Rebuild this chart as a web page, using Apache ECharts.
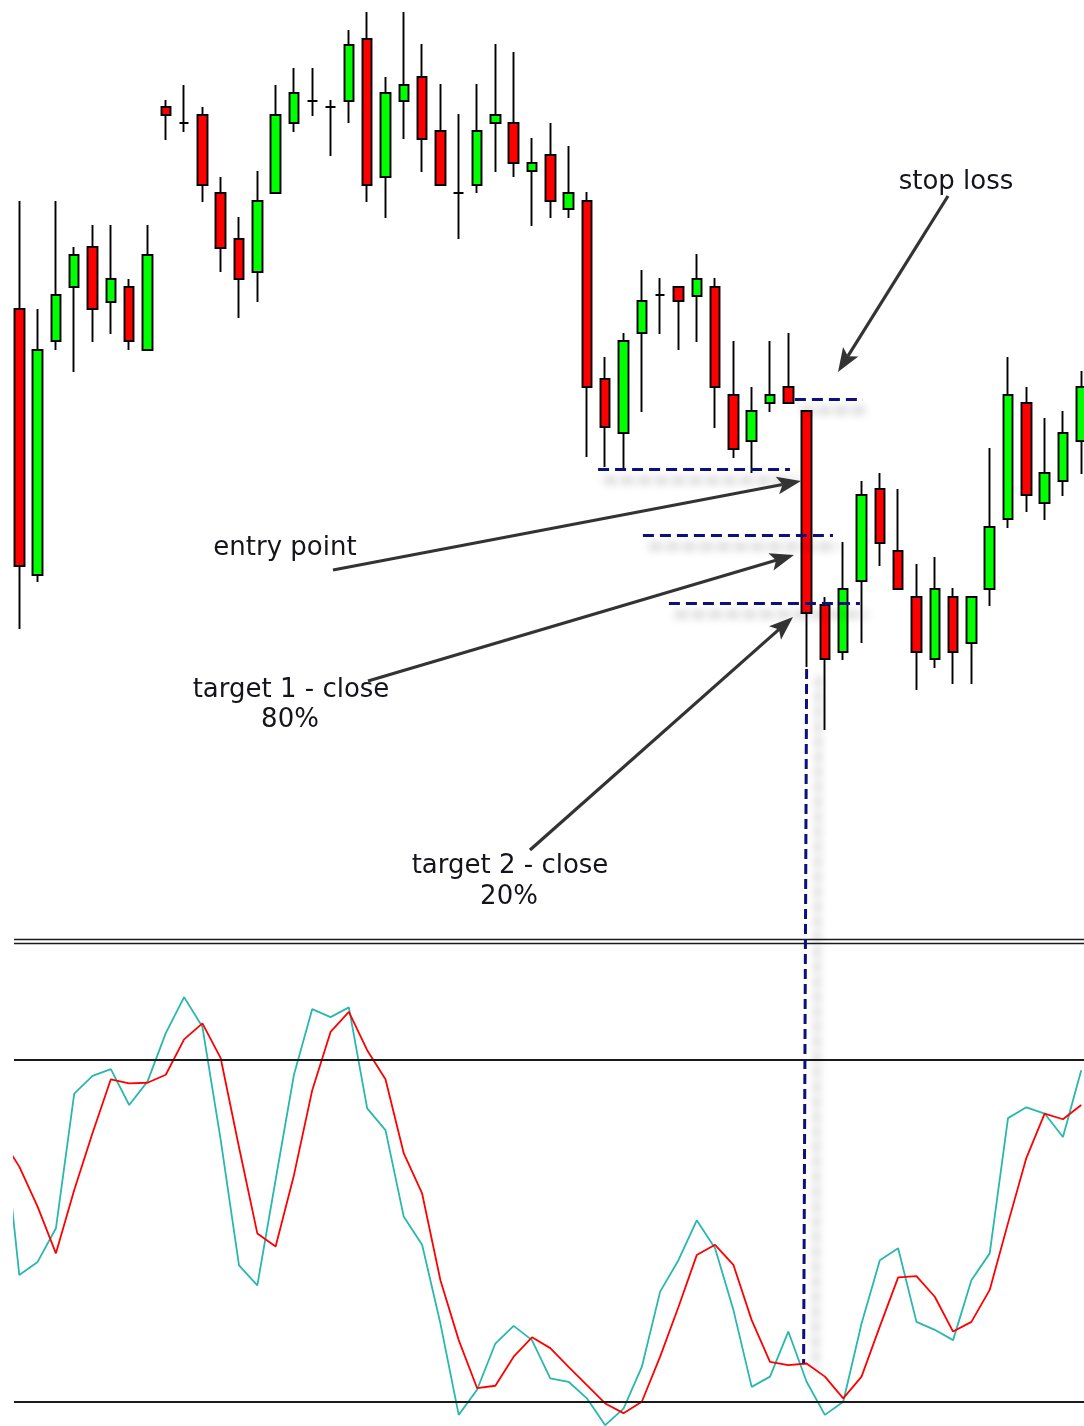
<!DOCTYPE html>
<html>
<head>
<meta charset="utf-8">
<script src="https://cdn.jsdelivr.net/npm/echarts@6/dist/echarts.min.js"></script>
<style>
html,body{margin:0;padding:0;background:#ffffff;}
#chart{width:1084px;height:1426px;}
</style>
</head>
<body>
<div id="chart"></div>
<script>
// ---------- DATA ----------
const barNumbers = [1,2,3,4,5,6,7,8,9,10,11,12,13,14,15,16,17,18,19,20,21,22,23,24,25,26,27,28,29,30,31,32,33,34,35,36,37,38,39,40,41,42,43,44,45,46,47,48,49,50,51,52,53,54,55,56,57,58,59];
const opens  = [691,425,659,713,753,698,713,650,893,877, 885,807,761,728,807,877,899,893,899,961, 823,899,923,869,807,815,877,877,829,845, 791,799,621,567,667,705,713,704,713,605, 559,597,613,589,395,348,419,511,449,403, 341,403,357,411,481,597,497,519,559];
const closes = [434,650,705,745,691,721,659,745,885,877, 815,752,721,799,885,907,899,893,955,815, 907,915,861,815,807,869,885,837,837,799, 807,613,573,659,699,705,699,721,613,551, 589,605,597,387,341,411,505,457,411,348, 411,348,403,473,605,505,527,567,613];
const lows   = [371,418,650,628,658,666,650,650,860,868, 798,728,682,698,807,868,884,844,877,798, 782,861,828,815,761,807,828,823,774,782, 782,543,533,532,588,666,650,658,572,542, 527,588,597,333,270,340,357,434,411,310, 332,316,316,394,472,488,480,504,526];
const highs  = [799,691,799,753,775,775,721,775,900,915, 893,823,783,829,915,932,932,900,970,988, 923,988,956,916,886,916,956,948,862,877, 854,808,643,667,730,722,713,746,722,659, 613,659,667,589,403,458,519,527,511,436, 443,412,403,552,643,613,582,589,629];

const stochBars = [0,1,2,3,4,5,6,7,8,9,10,11,12,13,14,15,16,17,18,19,20,21,22,23,24,25,26,27,28,29,30,31,32,33,34,35,36,37,38,39,40,41,42,43,44,45,46,47,48,49,50,51,52,53,54,55,56,57,58,59];
const stochK = [72.5,42.2,44.5,50.4,74.0,77.1,78.3,72.0,76.1,84.6, 90.9,85.7,65.9,43.9,40.4,58.9,77.3,88.8,87.4,89.1, 71.4,67.6,52.4,47.5,33.7,17.7,22.1,30.2,33.3,30.8, 24.1,23.5,20.6,15.9,18.8,26.1,39.3,44.8,51.8,46.9, 36.1,22.6,24.4,32.3,23.5,17.7,20.0,33.7,44.8,46.9, 34.0,32.6,30.8,41.3,46.0,69.7,71.6,70.5,66.4,78.1];
const stochD = [66.3,61.2,54.2,46.0,57.1,67.1,76.5,75.8,75.9,77.3, 83.5,86.3,80.2,64.6,49.5,47.2,59.7,74.6,84.8,88.3, 81.6,76.5,63.5,56.5,41.3,30.8,22.4,22.8,27.9,31.3, 29.4,26.1,22.9,19.7,18.0,20.0,27.9,36.6,45.7,47.5, 44.0,34.3,27.0,26.4,26.7,24.4,20.6,24.4,33.2,41.8, 42.0,38.4,32.3,34.0,39.6,51.3,62.7,70.5,69.5,72.0];
const stochLevels = [80, 20];

// trade levels (price, bar range of the dashed marker)
const levelNames  = ['stop loss', 'entry point', 'target 1', 'target 2'];
const levelPrices = [601, 531, 465, 397];
const levelFrom   = [43.36, 32.61, 35.06, 36.48];
const levelTo     = [47.08, 43.09, 45.44, 46.91];
const signalBar = 44;

(function () {
  const chart = echarts.init(document.getElementById('chart'), null, {renderer: 'canvas'});

  const candleData = barNumbers.map((k, i) => [k, opens[i], closes[i], lows[i], highs[i]]);
  const kData = stochBars.map((k, i) => [k, stochK[i]]);
  const dData = stochBars.map((k, i) => [k, stochD[i]]);

  const xMin = 0.7105, xMax = 59.15;
  const hiddenX = (gi) => ({type: 'value', gridIndex: gi, min: xMin, max: xMax, show: false, splitLine: {show: false}});

  const option = {
    animation: false,
    backgroundColor: '#ffffff',
    grid: [
      {left: 14, right: 0, top: 0, height: 945},
      {left: 14, right: 0, top: 945.2, bottom: 0}
    ],
    xAxis: [hiddenX(0), hiddenX(1)],
    yAxis: [
      {type: 'value', gridIndex: 0, min: 55, max: 1000, show: false, splitLine: {show: false}},
      {type: 'value', gridIndex: 1, min: 15.75, max: 100, show: false, splitLine: {show: false}}
    ],
    series: [
      {
        type: 'candlestick', xAxisIndex: 0, yAxisIndex: 0,
        data: candleData, barWidth: 10, silent: true,
        itemStyle: {color: '#00ff00', color0: '#ff0000', borderColor: '#000000', borderColor0: '#000000', borderColorDoji: '#000000', borderWidth: 1.9},
        markLine: {
          silent: true, symbol: ['none', 'none'], label: {show: false},
          lineStyle: {color: '#0e0e7c', width: 3, type: [11, 6], shadowColor: 'rgba(0,0,0,0.48)', shadowBlur: 10, shadowOffsetX: 7, shadowOffsetY: 11},
          emphasis: {disabled: true},
          data: levelPrices.map((p, i) => [{coord: [levelFrom[i], p]}, {coord: [levelTo[i], p]}])
        }
      },
      {
        type: 'line', xAxisIndex: 1, yAxisIndex: 1, data: kData,
        symbol: 'none', silent: true,
        lineStyle: {color: '#2ab7ae', width: 1.8},
        markLine: {
          silent: true, symbol: ['none', 'none'], label: {show: false},
          lineStyle: {color: '#1a1a1a', width: 2, type: 'solid'},
          emphasis: {disabled: true},
          data: stochLevels.map(v => ({yAxis: v}))
        }
      },
      {
        type: 'line', xAxisIndex: 1, yAxisIndex: 1, data: dData,
        symbol: 'none', silent: true,
        lineStyle: {color: '#ff0000', width: 1.8}
      }
    ]
  };
  chart.setOption(option);

  // ---------- ANNOTATIONS ----------
  const FONT = '26px "DejaVu Sans", Verdana, sans-serif';
  const TEXT_COLOR = '#15131c';
  const ARROW_COLOR = '#333333';

  function arrow(x1, y1, x2, y2) {
    const dx = x2 - x1, dy = y2 - y1, len = Math.hypot(dx, dy);
    const ux = dx / len, uy = dy / len, nx = -uy, ny = ux;
    const L = 24, W = 18;
    const bx = x2 - ux * L, by = y2 - uy * L;
    const nxp = x2 - ux * L * 0.78, nyp = y2 - uy * L * 0.78;
    return [
      {type: 'line', silent: true, z: 50, shape: {x1: x1, y1: y1, x2: nxp, y2: nyp}, style: {stroke: ARROW_COLOR, lineWidth: 3.2}},
      {type: 'polygon', silent: true, z: 50, shape: {points: [[x2, y2], [bx + nx * W / 2, by + ny * W / 2], [nxp, nyp], [bx - nx * W / 2, by - ny * W / 2]]}, style: {fill: ARROW_COLOR}}
    ];
  }
  function label(text, x, y) {
    return {type: 'text', silent: true, z: 60, style: {text: text, x: x, y: y, font: FONT, fill: TEXT_COLOR, align: 'center', verticalAlign: 'middle'}};
  }

  const sigTop = chart.convertToPixel({xAxisIndex: 0, yAxisIndex: 0}, [signalBar, lows[signalBar - 1]]);
  const sigBottom = chart.convertToPixel({xAxisIndex: 1, yAxisIndex: 1}, [signalBar, stochD[signalBar]]);

  const elements = [
    {type: 'line', silent: true, z: 40, shape: {x1: 14, y1: 939.5, x2: 1084, y2: 939.5}, style: {stroke: '#1a1a1a', lineWidth: 1.7}},
    {type: 'line', silent: true, z: 40, shape: {x1: 14, y1: 943.5, x2: 1084, y2: 943.5}, style: {stroke: '#1a1a1a', lineWidth: 1.7}},
    {type: 'line', silent: true, z: 45, shape: {x1: sigTop[0], y1: sigTop[1] + 2, x2: sigBottom[0] - 3, y2: sigBottom[1]},
      style: {stroke: '#0e0e7c', lineWidth: 3, lineDash: [10, 5], shadowColor: 'rgba(0,0,0,0.38)', shadowBlur: 9, shadowOffsetX: 12, shadowOffsetY: 8}},
    ...arrow(948, 196, 838, 372),
    ...arrow(333, 570, 801, 481),
    ...arrow(368, 681, 794, 555),
    ...arrow(530, 850, 793, 617),
    label('stop loss', 956, 182),
    label('entry point', 285, 548),
    label('target 1 - close', 291, 690),
    label('80%', 290, 720),
    label('target 2 - close', 510, 866),
    label('20%', 509, 897)
  ];
  chart.setOption({graphic: {elements: elements}});
})();
</script>
</body>
</html>
